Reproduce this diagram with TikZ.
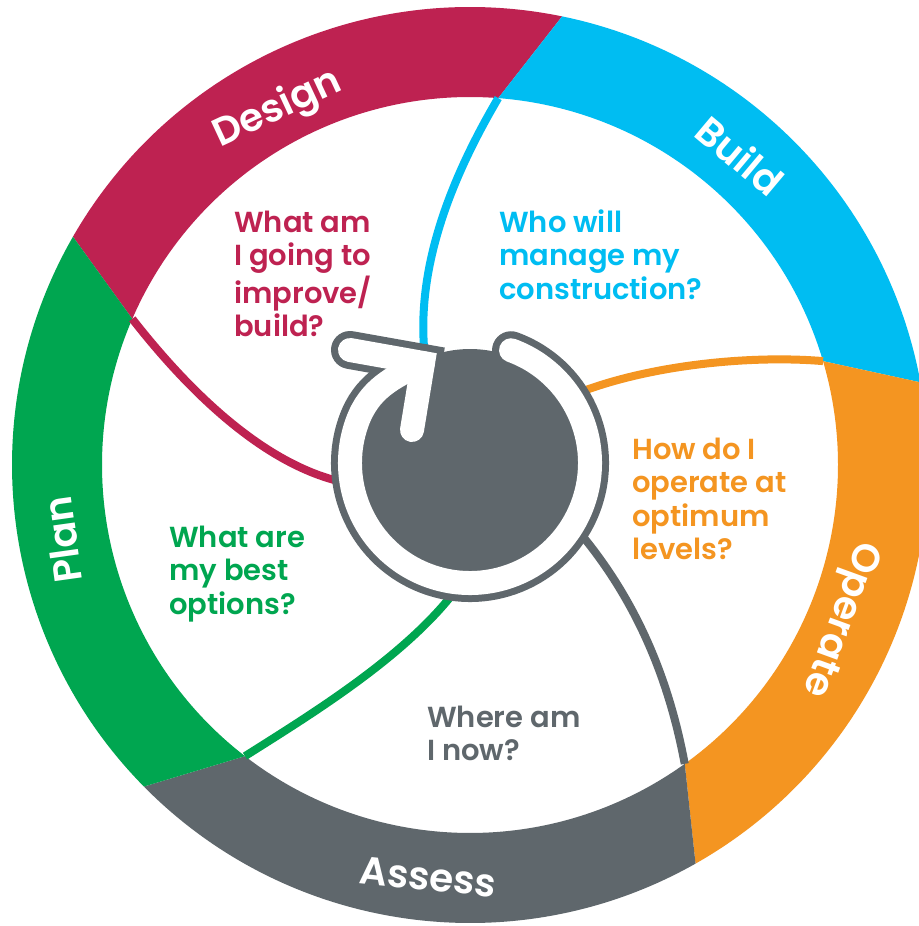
\documentclass[tikz,border=0pt]{standalone}
\usepackage{fontspec}
\newfontfamily\qfont{Poppins SemiBold}
\definecolor{cDesign}{HTML}{BE2251}
\definecolor{cBuild}{HTML}{00BDF2}
\definecolor{cOperate}{HTML}{F49521}
\definecolor{cAssess}{HTML}{5F676C}
\definecolor{cPlan}{HTML}{00A650}
\newcommand\qlines[1]{\begin{tabular}[t]{@{}l@{}}#1\end{tabular}}
\tikzset{
 ringlbl/.style={text=white, font=\qfont\fontsize{39}{41}\selectfont, inner sep=0pt},
 question/.style={anchor=base west, inner sep=0pt, font=\qfont\fontsize{29}{33.6}\selectfont},
 tail/.style={line width=8pt, line cap=butt},
}
\begin{document}
\begin{tikzpicture}[x=1pt,y=1pt]
\useasboundingbox (0,0) rectangle (918,-926);
\fill[white] (0,0) rectangle (918,-926);
\begin{scope}[shift={(470,-465)}]
 % ring segments
 \fill[cDesign] (150.1:458) arc[start angle=150.1,end angle=78.4,radius=458] -- (85.6:368) arc[start angle=85.6,end angle=156.6,radius=368] -- cycle;
 \fill[cBuild] (78.4:458) arc[start angle=78.4,end angle=10.4,radius=458] -- (16.4:368) arc[start angle=16.4,end angle=85.6,radius=368] -- cycle;
 \fill[cOperate] (10.4:458) arc[start angle=10.4,end angle=-60.5,radius=458] -- (-54.3:368) arc[start angle=-54.3,end angle=16.4,radius=368] -- cycle;
 \fill[cAssess] (-60.5:458) arc[start angle=-60.5,end angle=-135.4,radius=458] -- (-127.7:368) arc[start angle=-127.7,end angle=-54.3,radius=368] -- cycle;
 \fill[cPlan] (224.6:458) arc[start angle=224.6,end angle=150.1,radius=458] -- (156.6:368) arc[start angle=156.6,end angle=232.3,radius=368] -- cycle;
 % tails
 \draw[tail, cDesign] (156.6:368) .. controls (-290,85) and (-215,5) .. (-132,-16);
 \draw[tail, cBuild] (85.6:368) .. controls (-20,285) and (-52,200) .. (-46,118);
 \draw[tail, cOperate] (16.4:368) .. controls (280,110) and (180,100) .. (108,72);
 \draw[tail, cAssess] (-54.3:368) .. controls (200,-220) and (170,-140) .. (110,-68);
 \draw[tail, cPlan] (232.3:368) .. controls (-160,-250) and (-70,-195) .. (-18,-130);
 % centre
 \begin{scope}[shift={(0,2)}]
  \fill[cAssess] (0,0) circle[radius=114];
  \draw[cAssess, line width=38pt, line cap=round] (70:120) arc[start angle=70,end angle=-200,radius=120] to[out=70,in=205] (-47,100);
  \draw[cAssess, line width=38pt, line cap=round, line join=miter] (-120,113) -- (-47,100) -- (-58,33);
  \draw[white, line width=24pt, line cap=round] (70:120) arc[start angle=70,end angle=-200,radius=120] to[out=70,in=205] (-47,100);
  \draw[white, line width=24pt, line cap=round, line join=miter] (-120,113) -- (-47,100) -- (-58,33);
 \end{scope}
 % ring labels
 \node[ringlbl, rotate=25] (design) at (118.4:404) {Design};
 \node[ringlbl, rotate=-40] (build) at (48.9:411) {Build};
 \node[ringlbl, rotate=-110] (operate) at (-22.6:400) {Operate};
 \node[ringlbl, rotate=-6] (assess) at (-95.8:414) {Assess};
 \node[ringlbl, rotate=98] (plan) at (190.4:414) {Plan};
\end{scope}
% questions
\node[question, text=cDesign] (q1) at (234,-232) {\qlines{What am\\I going to\\improve/\\build?}};
\node[question, text=cBuild] (q2) at (499,-232) {\qlines{Who will\\manage my\\construction?}};
\node[question, text=cOperate] (q3) at (632,-459) {\qlines{How do I\\operate at\\optimum\\levels?}};
\node[question, text=cPlan] (q4) at (169,-547) {\qlines{What are\\my best\\options?}};
\node[question, text=cAssess] (q5) at (427,-727) {\qlines{Where am\\I now?}};
\end{tikzpicture}
\end{document}
